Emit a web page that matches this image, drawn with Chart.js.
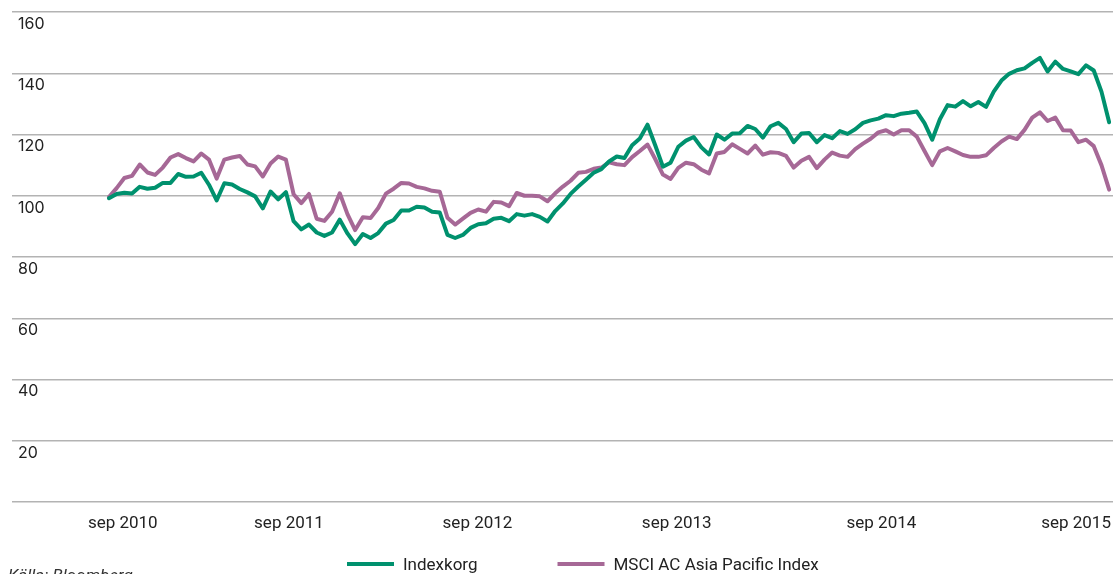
<!DOCTYPE html>
<html lang="sv">
<head>
    <meta charset="UTF-8">
    <title>Indexkorg vs MSCI AC Asia Pacific Index</title>
    <script src="https://cdn.jsdelivr.net/npm/chart.js"></script>
    <style>
        html, body { margin: 0; padding: 0; background: #fff; }
    </style>
</head>
<body>
    <canvas id="indexChart" width="1113" height="574"></canvas>
    <script>
        // Biweekly observations, sep 2010 - sep 2015 (index start = 100)
        const indexkorg = [
            99.2, 100.6, 101, 100.7, 102.9, 102.3, 102.6, 104.2, 104.2, 107.1,
            106.2, 106.3, 107.5, 103.6, 98.5, 104.1, 103.7, 102.2, 101.1, 99.8,
            95.9, 101.4, 98.8, 101.2, 91.7, 89, 90.6, 88, 86.9, 88,
            92.2, 87.7, 84.2, 87.5, 86.2, 87.8, 90.9, 92.1, 95.2, 95.2,
            96.4, 96.2, 94.8, 94.5, 87.2, 86.2, 87.2, 89.5, 90.7, 91,
            92.5, 92.8, 91.7, 94, 93.5, 94, 93.1, 91.6, 95, 97.5,
            100.6, 103, 105.2, 107.5, 108.7, 111.2, 112.8, 112.3, 116.5, 118.7,
            123.2, 116.5, 109.5, 110.8, 116, 118, 119.2, 115.8, 113.5, 120,
            118.3, 120.3, 120.4, 122.8, 121.8, 119, 122.7, 123.8, 121.8, 117.5,
            120.3, 120.5, 117.5, 119.8, 118.8, 121.1, 120.2, 121.7, 123.8, 124.6,
            125.2, 126.3, 126, 126.8, 127.1, 127.5, 123.7, 118.3, 125, 129.6,
            129.1, 130.9, 129.2, 130.6, 129, 134, 137.6, 139.8, 141, 141.6,
            143.4, 145, 140.6, 143.8, 141.4, 140.6, 139.7, 142.6, 140.9, 134,
            124
        ];
        const msciAsiaPacific = [
            99.6, 102.5, 105.8, 106.5, 110.2, 107.6, 106.8, 109.2, 112.5, 113.6,
            112.3, 111.2, 113.8, 111.8, 105.6, 111.8, 112.5, 113, 110.2, 109.6,
            106.3, 110.5, 112.8, 111.8, 100.5, 97.6, 100.6, 92.5, 91.8, 94.8,
            100.8, 94, 88.8, 93, 92.7, 96, 100.7, 102.3, 104.2, 104,
            102.9, 102.4, 101.6, 101.3, 92.8, 90.6, 92.5, 94.4, 95.5, 94.8,
            98, 97.8, 96.6, 100.9, 100, 100, 99.8, 98.2, 100.8, 103,
            104.9, 107.5, 107.8, 108.8, 109.2, 110.9, 110.3, 110, 112.6, 114.6,
            116.7, 112, 106.9, 105.5, 109.1, 110.8, 110.3, 108.5, 107.3, 113.8,
            114.3, 116.8, 115.3, 113.8, 116.4, 113.4, 114.2, 114, 113, 109.2,
            111.4, 112.7, 109, 111.8, 114.1, 113.1, 112.7, 115.2, 117, 118.6,
            120.7, 121.4, 120, 121.4, 121.4, 119.3, 114.6, 110, 114.5, 115.6,
            114.5, 113.3, 112.7, 112.7, 113.2, 115.6, 117.7, 119.3, 118.5, 121.5,
            125.5, 127.2, 124.4, 125.5, 121.4, 121.3, 117.5, 118.3, 116.2, 110,
            102
        ];

        // x-axis labels and where they sit (in biweekly periods)
        const tickLabels = ['sep 2010', 'sep 2011', 'sep 2012', 'sep 2013', 'sep 2014', 'sep 2015'];
        const tickPositions = [1.8, 23.4, 47.9, 73.8, 100.4, 125.7];

        const seriesNames = ['Indexkorg', 'MSCI AC Asia Pacific Index'];
        const sourceText = 'Källa: Bloomberg';

        const toPoints = (values) => values.map((v, i) => ({ x: i, y: v }));

        // legend + source line at the bottom
        const bottomLegend = {
            id: 'bottomLegend',
            afterDraw(chart) {
                const ctx = chart.ctx;
                ctx.save();
                ctx.font = '17px Roboto';
                ctx.textBaseline = 'alphabetic';
                let x = 347;
                chart.data.datasets.forEach(ds => {
                    ctx.fillStyle = ds.borderColor;
                    ctx.fillRect(x, 562, 47, 4);
                    x += 56;
                    ctx.fillStyle = '#222';
                    ctx.fillText(ds.label, x, 570);
                    x += ctx.measureText(ds.label).width + 80;
                });
                ctx.font = 'italic 17px Roboto';
                ctx.fillStyle = '#333';
                ctx.fillText(sourceText, 8, 581);
                ctx.restore();
            }
        };

        const ctx = document.getElementById('indexChart').getContext('2d');
        new Chart(ctx, {
            type: 'line',
            data: {
                datasets: [
                    {
                        label: seriesNames[0],
                        data: toPoints(indexkorg),
                        borderColor: '#00916e',
                        borderWidth: 4
                    },
                    {
                        label: seriesNames[1],
                        data: toPoints(msciAsiaPacific),
                        borderColor: '#a66896',
                        borderWidth: 4
                    }
                ]
            },
            options: {
                responsive: false,
                animation: false,
                layout: { padding: { left: 0, right: 0, top: 12, bottom: 35.6 } },
                elements: {
                    point: { radius: 0 },
                    line: { tension: 0, borderJoinStyle: 'round', borderCapStyle: 'round' }
                },
                plugins: {
                    legend: { display: false },
                    tooltip: { enabled: false }
                },
                scales: {
                    x: {
                        type: 'linear',
                        min: -12.6,
                        max: 130.5,
                        grid: { display: false },
                        border: { display: false },
                        afterBuildTicks: (scale) => {
                            scale.ticks = tickPositions.map(v => ({ value: v }));
                        },
                        afterFit: (scale) => {
                            scale.paddingLeft = 0;
                            scale.paddingRight = 0;
                        },
                        ticks: {
                            padding: 4,
                            autoSkip: false,
                            maxRotation: 0,
                            color: '#222',
                            font: { family: 'Roboto', size: 17 },
                            callback: (value, index) => tickLabels[index]
                        }
                    },
                    y: {
                        min: 0,
                        max: 160,
                        grid: { color: '#b3b3b3', lineWidth: 1.5, drawTicks: false },
                        border: { display: false },
                        afterFit: (scale) => {
                            scale.paddingTop = 0;
                            scale.paddingBottom = 0;
                        },
                        ticks: {
                            stepSize: 20,
                            mirror: true,
                            padding: 6,
                            labelOffset: 12,
                            color: '#222',
                            font: { family: 'Inter', size: 16 },
                            callback: (value) => value === 0 ? '' : value
                        }
                    }
                }
            },
            plugins: [bottomLegend]
        });
    </script>
</body>
</html>
